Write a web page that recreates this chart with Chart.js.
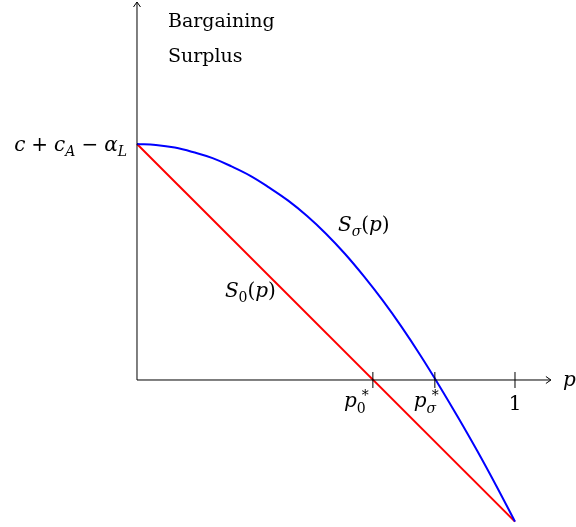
<!DOCTYPE html>
<html>
<head>
<meta charset="utf-8">
<script src="https://cdn.jsdelivr.net/npm/chart.js@4"></script>
<style>
  html, body { margin: 0; padding: 0; background: #fff; }
  #wrap { width: 576px; height: 527px; }
</style>
</head>
<body>
<div id="wrap"><canvas id="chart" width="576" height="527"></canvas></div>
<script>
// Datos (p en [0,1], excedente normalizado: valor en p=0 vale 1)
const pValues = [0, 0.05, 0.1, 0.15, 0.2, 0.25, 0.3, 0.35, 0.4, 0.45, 0.5,
                 0.55, 0.6, 0.65, 0.7, 0.75, 0.8, 0.85, 0.9, 0.95, 1];
const sigmaSurplus = [1, 0.996, 0.985, 0.965, 0.94, 0.905, 0.865, 0.815, 0.76, 0.695, 0.62,
                      0.535, 0.44, 0.337, 0.225, 0.104, -0.025, -0.16, -0.3, -0.447, -0.6];
const zeroP = [0, 1];
const zeroSurplus = [1, -0.6];
const tickP = [0.624, 0.788, 1];

const SERIF = '"DejaVu Serif", "Liberation Serif", serif';

// dibuja texto con partes (normal / italica / subindice)
function drawParts(ctx, parts, x, y, align) {
  let total = 0;
  parts.forEach(pt => {
    ctx.font = (pt.italic ? 'italic ' : '') + pt.size + 'px ' + SERIF;
    pt.w = ctx.measureText(pt.t).width;
    total += pt.w + (pt.gap || 0);
  });
  let cx = align === 'right' ? x - total : (align === 'center' ? x - total / 2 : x);
  ctx.textBaseline = 'alphabetic';
  ctx.textAlign = 'left';
  parts.forEach(pt => {
    ctx.font = (pt.italic ? 'italic ' : '') + pt.size + 'px ' + SERIF;
    ctx.fillText(pt.t, cx, y + (pt.dy || 0));
    cx += pt.w + (pt.gap || 0);
  });
}

const axesPlugin = {
  id: 'axesPlugin',
  afterDatasetsDraw(chart) {
    const ctx = chart.ctx;
    const xs = chart.scales.x, ys = chart.scales.y;
    const x0 = xs.getPixelForValue(0), y0 = ys.getPixelForValue(0);
    const yTop = ys.getPixelForValue(1);
    ctx.save();
    ctx.strokeStyle = '#000';
    ctx.fillStyle = '#000';
    ctx.lineWidth = 1;
    // eje y
    ctx.beginPath();
    ctx.moveTo(x0, y0);
    ctx.lineTo(x0, 2);
    ctx.moveTo(x0 - 3.5, 7); ctx.lineTo(x0, 2); ctx.lineTo(x0 + 3.5, 7);
    ctx.stroke();
    // eje x
    const xEnd = xs.getPixelForValue(1.095);
    ctx.beginPath();
    ctx.moveTo(x0, y0);
    ctx.lineTo(xEnd, y0);
    ctx.moveTo(xEnd - 5, y0 - 3.5); ctx.lineTo(xEnd, y0); ctx.lineTo(xEnd - 5, y0 + 3.5);
    ctx.stroke();
    // marcas
    tickP.forEach(p => {
      const px = xs.getPixelForValue(p);
      ctx.beginPath();
      ctx.moveTo(px, y0 - 8);
      ctx.lineTo(px, y0 + 8);
      ctx.stroke();
    });

    // etiquetas
    drawParts(ctx, [{ t: 'p', italic: true, size: 20 }], xEnd + 12, y0 + 6, 'left');
    const p0x = xs.getPixelForValue(tickP[0]);
    drawParts(ctx, [{ t: 'p', italic: true, size: 20 }, { t: '0', size: 14, dy: 6 }], p0x - 18, y0 + 27, 'center');
    ctx.font = '14px ' + SERIF;
    ctx.fillText('*', p0x - 11, y0 + 20);
    const psx = xs.getPixelForValue(tickP[1]);
    drawParts(ctx, [{ t: 'p', italic: true, size: 20 }, { t: 'σ', italic: true, size: 14, dy: 6 }], psx - 10, y0 + 27, 'center');
    ctx.font = '14px ' + SERIF;
    ctx.fillText('*', psx - 3, y0 + 20);
    const p1x = xs.getPixelForValue(tickP[2]);
    drawParts(ctx, [{ t: '1', size: 20 }], p1x, y0 + 30, 'center');

    drawParts(ctx, [
      { t: 'c', italic: true, size: 20, gap: 6 },
      { t: '+', size: 20, gap: 6 },
      { t: 'c', italic: true, size: 20 },
      { t: 'A', italic: true, size: 14, dy: 5, gap: 6 },
      { t: '−', size: 20, gap: 6 },
      { t: 'α', italic: true, size: 20 },
      { t: 'L', italic: true, size: 14, dy: 5 }
    ], x0 - 10, yTop + 7, 'right');

    ctx.font = '19px ' + SERIF;
    ctx.textAlign = 'left';
    ctx.fillText('Bargaining', x0 + 31, 27);
    ctx.fillText('Surplus', x0 + 31, 62);

    drawParts(ctx, [
      { t: 'S', italic: true, size: 20 },
      { t: 'σ', italic: true, size: 14, dy: 5 },
      { t: '(', size: 20 },
      { t: 'p', italic: true, size: 20 },
      { t: ')', size: 20 }
    ], xs.getPixelForValue(0.6), ys.getPixelForValue(0.63), 'center');
    drawParts(ctx, [
      { t: 'S', italic: true, size: 20 },
      { t: '0', size: 14, dy: 5 },
      { t: '(', size: 20 },
      { t: 'p', italic: true, size: 20 },
      { t: ')', size: 20 }
    ], xs.getPixelForValue(0.3), ys.getPixelForValue(0.35), 'center');
    ctx.restore();
  }
};

new Chart(document.getElementById('chart'), {
  type: 'line',
  data: {
    datasets: [
      {
        label: 'S_sigma',
        data: pValues.map((p, i) => ({ x: p, y: sigmaSurplus[i] })),
        borderColor: '#0000ff',
        borderWidth: 2,
        pointRadius: 0,
        tension: 0.4
      },
      {
        label: 'S_0',
        data: zeroP.map((p, i) => ({ x: p, y: zeroSurplus[i] })),
        borderColor: '#ff0000',
        borderWidth: 2,
        pointRadius: 0,
        tension: 0
      }
    ]
  },
  options: {
    responsive: false,
    animation: false,
    layout: { padding: 0 },
    plugins: { legend: { display: false }, tooltip: { enabled: false } },
    scales: {
      x: { type: 'linear', display: false, min: -0.3624, max: 1.1614 },
      y: { type: 'linear', display: false, min: -0.6229, max: 1.6102 }
    }
  },
  plugins: [axesPlugin]
});
</script>
</body>
</html>
